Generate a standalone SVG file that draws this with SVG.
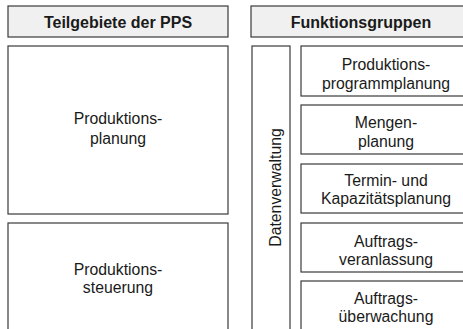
<svg xmlns="http://www.w3.org/2000/svg" width="463" height="329" viewBox="0 0 463 329">
  <style>
    .box { fill: #ffffff; stroke: #3a3a3a; stroke-width: 1.2; }
    .head { fill: #f0f0f0; stroke: #3a3a3a; stroke-width: 1.2; }
    .t { font-family: "Liberation Sans", Arial, sans-serif; font-size: 15.8px; fill: #1a1a1a; text-anchor: middle; }
    .h { font-family: "Liberation Sans", Arial, sans-serif; font-size: 16px; font-weight: bold; fill: #1a1a1a; text-anchor: middle; }
  </style>
  <rect x="0" y="0" width="463" height="329" fill="#ffffff"/>

  <g id="header-teilgebiete">
    <rect class="head" x="8" y="6" width="220" height="31"/>
    <text class="h" x="118" y="28.3">Teilgebiete der PPS</text>
  </g>
  <g id="header-funktionsgruppen">
    <rect class="head" x="251" y="6" width="220" height="31"/>
    <text class="h" x="361" y="28.3">Funktionsgruppen</text>
  </g>

  <g id="produktionsplanung">
    <rect class="box" x="8" y="46" width="220" height="168"/>
    <text class="t" x="118" y="124.3">Produktions-</text>
    <text class="t" x="118" y="143.8">planung</text>
  </g>
  <g id="produktionssteuerung">
    <rect class="box" x="8" y="223" width="220" height="120"/>
    <text class="t" x="118" y="275">Produktions-</text>
    <text class="t" x="118" y="293">steuerung</text>
  </g>

  <g id="datenverwaltung">
    <rect class="box" x="252" y="46" width="38" height="297"/>
    <text class="t" transform="translate(280.5 187.5) rotate(-90)" x="0" y="0">Datenverwaltung</text>
  </g>

  <g id="produktionsprogrammplanung">
    <rect class="box" x="301" y="46" width="170" height="50"/>
    <text class="t" x="386" y="70">Produktions-</text>
    <text class="t" x="386" y="88.5">programmplanung</text>
  </g>
  <g id="mengenplanung">
    <rect class="box" x="301" y="105" width="170" height="49"/>
    <text class="t" x="386" y="128.3">Mengen-</text>
    <text class="t" x="386" y="146.5">planung</text>
  </g>
  <g id="termin-kapazitaetsplanung">
    <rect class="box" x="301" y="164" width="170" height="49"/>
    <text class="t" x="386" y="185.5">Termin- und</text>
    <text class="t" x="386" y="204">Kapazitätsplanung</text>
  </g>
  <g id="auftragsveranlassung">
    <rect class="box" x="301" y="223" width="170" height="49"/>
    <text class="t" x="386" y="246.5">Auftrags-</text>
    <text class="t" x="386" y="264.5">veranlassung</text>
  </g>
  <g id="auftragsueberwachung">
    <rect class="box" x="301" y="281" width="170" height="60"/>
    <text class="t" x="386" y="303.5">Auftrags-</text>
    <text class="t" x="386" y="322">überwachung</text>
  </g>

  <g id="connectors"></g>
</svg>
